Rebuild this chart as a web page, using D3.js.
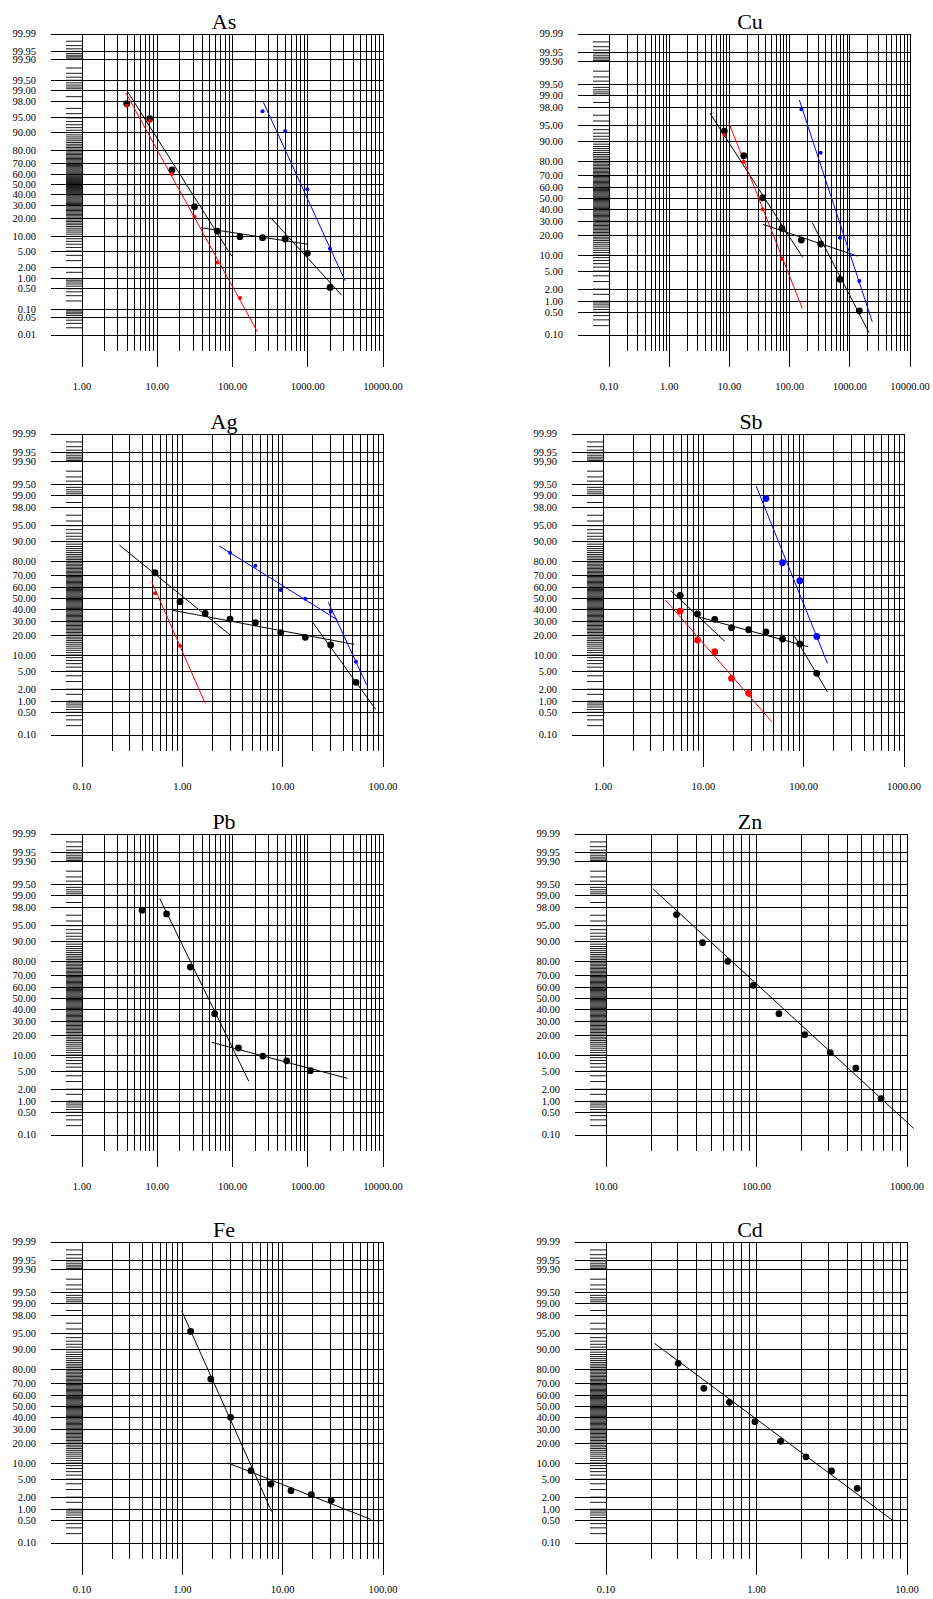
<!DOCTYPE html>
<html>
<head>
<meta charset="utf-8">
<script src="https://cdn.jsdelivr.net/npm/d3@7"></script>
<style>
  html, body { margin: 0; padding: 0; background: #fff; }
  svg { display: block; }
  text { font-family: "Liberation Serif", "Times New Roman", serif; fill: #000; }
</style>
</head>
<body>
<svg id="chart" width="933" height="1599"></svg>
<script>
// probability gridlines (cumulative %)
const probLabels = [99.99, 99.95, 99.9, 99.5, 99, 98, 95, 90, 80, 70, 60, 50, 40, 30, 20, 10, 5, 2, 1, 0.5, 0.1, 0.05, 0.01];

// ---- As ----
const asX = [3.93, 7.95, 15.7, 31.3, 62.8, 125.6, 251, 501, 986, 1976];
const asBlack = [97.7, 94.8, 64, 29.2, 12.5, 9.86, 9.45, 8.9, 4.46, 0.55];
const asRedX = [3.93, 7.95, 15.7, 31.3, 62.8, 125.6];
const asRed = [97.4, 94.2, 60.2, 21.3, 2.68, 0.25];
const asBlueX = [251, 501, 986, 1976];
const asBlue = [96.5, 90.7, 45.3, 5.6];
const asBlackFits = [[[4.05, 98.9], [97.5, 3.86]], [[38.1, 14.3], [1016, 6.97]], [[322, 20.6], [2826, 0.31]]];
const asRedFits = [[[3.84, 98.8], [214, 0.0138]]];
const asBlueFits = [[[257, 97.9], [3126, 0.87]]];

// ---- Cu ----
const cuX = [8.23, 17.3, 35.7, 74.8, 157, 328, 687, 1439];
const cuBlack = [93.6, 83.3, 50.6, 24.9, 17.3, 15.1, 3.36, 0.55];
const cuRedX = [8.23, 17.3, 35.7, 74.8];
const cuRed = [92.4, 79.7, 40.2, 8.5];
const cuBlueX = [157, 328, 687, 1439];
const cuBlue = [97.8, 84.9, 18.7, 3.08];
const cuBlackFits = [[[4.76, 97.3], [165, 9.1]], [[35.7, 27.9], [1334, 9.6]], [[238, 29.1], [2084, 0.119]]];
const cuRedFits = [[[9.73, 95.7], [162.6, 0.644]]];
const cuBlueFits = [[[145, 98.7], [2366, 0.26]]];

// ---- Ag ----
const agX = [0.534, 0.948, 1.69, 2.99, 5.34, 9.55, 16.8, 30.1, 53.8];
const agBlack = [71.9, 47.0, 36.8, 32.0, 29.1, 21.9, 18.9, 14.6, 2.88];
const agRedX = [0.534, 0.948];
const agRed = [54.6, 14.2];
const agBlueX = [2.99, 5.34, 9.55, 16.8, 30.1, 53.8];
const agBlue = [84.9, 77.0, 57.5, 49.7, 38.2, 7.6];
const agBlackFits = [[[0.2355, 88.6], [2.99, 20.4]], [[0.802, 39.4], [51.8, 14.9]], [[19.9, 29.4], [84.6, 0.6]]];
const agRedFits = [[[0.495, 64.7], [1.69, 0.88]]];
const agBlueFits = [[[2.34, 88.2], [35.3, 31.2]], [[28.5, 46.5], [68.8, 2.5]]];

// ---- Sb ----
const sbX = [5.88, 8.74, 13.0, 19.1, 28.3, 42.1, 61.5, 91.6, 135];
const sbBlack = [52.8, 36.2, 31.8, 25.4, 23.9, 22.5, 17.9, 15.1, 4.5];
const sbRedX = [5.88, 8.74, 13.0, 19.1, 28.3];
const sbRed = [38.7, 17.3, 11.4, 3.53, 1.59];
const sbBlueX = [42.1, 61.5, 91.6, 135];
const sbBlue = [98.8, 79.0, 65.5, 19.5];
const sbBlackFits = [[[4.74, 56.9], [16.5, 16.4]], [[9.3, 33.4], [111, 13.7]], [[80.5, 19.9], [172.6, 1.71]]];
const sbRedFits = [[[4.2, 48.5], [48.3, 0.26]]];
const sbBlueFits = [[[33.5, 99.46], [172.6, 7.1]]];

// ---- Pb ----
const pbX = [6.29, 13.3, 27.5, 58.0, 120, 253, 524, 1084];
const pbBlack = [97.7, 97.2, 76.1, 36.5, 13.1, 9.6, 7.9, 5.1];
const pbBlackFits = [[[10.8, 98.8], [164, 3.08]], [[52.9, 16.0], [3357, 3.53]]];

// ---- Zn ----
const znX = [29.4, 43.8, 64.4, 95.3, 141, 209, 309, 457, 673];
const znBlack = [97.1, 89.6, 79.9, 61.6, 36.5, 20.6, 10.96, 5.76, 1.16];
const znBlackFits = [[[20.6, 99.33], [1107, 0.164]]];

// ---- Fe ----
const feX = [1.21, 1.92, 3.03, 4.83, 7.65, 12.1, 19.3, 30.5];
const feBlack = [95.5, 73.2, 40.2, 7.3, 3.96, 2.83, 2.29, 1.68];
const feBlackFits = [[[0.986, 98.45], [7.78, 0.86]], [[2.83, 10.1], [75.4, 0.53]]];

// ---- Cd ----
const cdX = [0.302, 0.447, 0.661, 0.977, 1.445, 2.13, 3.15, 4.67];
const cdBlack = [83.5, 65.9, 53.7, 36.5, 21.5, 12.7, 7.2, 3.19];
const cdBlackFits = [[[0.21, 92.3], [7.96, 0.51]]];

// inverse normal CDF (Acklam)
function probit(p) {
  const a = [-3.969683028665376e+01, 2.209460984245205e+02, -2.759285104469687e+02, 1.383577518672690e+02, -3.066479806614716e+01, 2.506628277459239e+00];
  const b = [-5.447609879822406e+01, 1.615858368580409e+02, -1.556989798598866e+02, 6.680131188771972e+01, -1.328068155288572e+01];
  const c = [-7.784894002430293e-03, -3.223964580411365e-01, -2.400758277161838e+00, -2.549732539343734e+00, 4.374664141464968e+00, 2.938163982698783e+00];
  const d = [7.784695709041462e-03, 3.224671290700398e-01, 2.445134137142996e+00, 3.754408661907416e+00];
  const pl = 0.02425;
  let q, r;
  if (p < pl) {
    q = Math.sqrt(-2 * Math.log(p));
    return (((((c[0]*q+c[1])*q+c[2])*q+c[3])*q+c[4])*q+c[5]) / ((((d[0]*q+d[1])*q+d[2])*q+d[3])*q+1);
  }
  if (p > 1 - pl) {
    q = Math.sqrt(-2 * Math.log(1 - p));
    return -(((((c[0]*q+c[1])*q+c[2])*q+c[3])*q+c[4])*q+c[5]) / ((((d[0]*q+d[1])*q+d[2])*q+d[3])*q+1);
  }
  q = p - 0.5; r = q * q;
  return (((((a[0]*r+a[1])*r+a[2])*r+a[3])*r+a[4])*r+a[5])*q / (((((b[0]*r+b[1])*r+b[2])*r+b[3])*r+b[4])*r+1);
}

// fine tick ladder left of the axis
const ladder = [];
for (let i = 91; i <= 98; i++) ladder.push(99.9 + (i - 90) / 100);
for (let i = 1; i <= 8; i++) ladder.push(99 + i / 10);
ladder.push(98.5, 1.5);
for (let i = 1; i <= 97; i++) ladder.push(i);
for (let i = 2; i <= 9; i++) ladder.push(i / 10);
for (let i = 2; i <= 9; i++) ladder.push(i / 100);

const size = 301;
const zip = (xs, ps) => xs.map((x, i) => [x, ps[i]]);

const panels = [
  { title: 'As', xDomain: [1, 10000], pMin: 0.01, left: 82, top: 34, titleX: 224,
    series: [
      { pts: zip(asX, asBlack), fits: asBlackFits, color: '#000', r: 3.4 },
      { pts: zip(asRedX, asRed), fits: asRedFits, color: '#f00', r: 2 },
      { pts: zip(asBlueX, asBlue), fits: asBlueFits, color: '#00f', r: 2 }] },
  { title: 'Cu', xDomain: [0.1, 10000], pMin: 0.1, left: 609, top: 34, titleX: 750,
    series: [
      { pts: zip(cuX, cuBlack), fits: cuBlackFits, color: '#000', r: 3.4 },
      { pts: zip(cuRedX, cuRed), fits: cuRedFits, color: '#f00', r: 2 },
      { pts: zip(cuBlueX, cuBlue), fits: cuBlueFits, color: '#00f', r: 2 }] },
  { title: 'Ag', xDomain: [0.1, 100], pMin: 0.1, left: 82, top: 434, titleX: 224,
    series: [
      { pts: zip(agX, agBlack), fits: agBlackFits, color: '#000', r: 3.4 },
      { pts: zip(agRedX, agRed), fits: agRedFits, color: '#f00', r: 2 },
      { pts: zip(agBlueX, agBlue), fits: agBlueFits, color: '#00f', r: 2 }] },
  { title: 'Sb', xDomain: [1, 1000], pMin: 0.1, left: 603, top: 434, titleX: 751,
    series: [
      { pts: zip(sbX, sbBlack), fits: sbBlackFits, color: '#000', r: 3.4 },
      { pts: zip(sbRedX, sbRed), fits: sbRedFits, color: '#f00', r: 3.4 },
      { pts: zip(sbBlueX, sbBlue), fits: sbBlueFits, color: '#00f', r: 3.4 }] },
  { title: 'Pb', xDomain: [1, 10000], pMin: 0.1, left: 82, top: 834, titleX: 224,
    series: [{ pts: zip(pbX, pbBlack), fits: pbBlackFits, color: '#000', r: 3.4 }] },
  { title: 'Zn', xDomain: [10, 1000], pMin: 0.1, left: 606, top: 834, titleX: 750,
    series: [{ pts: zip(znX, znBlack), fits: znBlackFits, color: '#000', r: 3.4 }] },
  { title: 'Fe', xDomain: [0.1, 100], pMin: 0.1, left: 82, top: 1242, titleX: 224,
    series: [{ pts: zip(feX, feBlack), fits: feBlackFits, color: '#000', r: 3.4 }] },
  { title: 'Cd', xDomain: [0.1, 10], pMin: 0.1, left: 606, top: 1242, titleX: 750,
    series: [{ pts: zip(cdX, cdBlack), fits: cdBlackFits, color: '#000', r: 3.4 }] }
];

const svg = d3.select('#chart');
svg.append('rect').attr('width', 933).attr('height', 1599).attr('fill', '#fff');

panels.forEach(pn => {
  const g = svg.append('g');
  const x = d3.scaleLog().domain(pn.xDomain).range([pn.left, pn.left + size]);
  const z = d3.scaleLinear().domain([probit(pn.pMin / 100), probit(0.9999)]).range([pn.top + size, pn.top]);
  const y = p => z(probit(p / 100));
  const bottom = pn.top + size;

  // title
  g.append('text')
    .attr('x', pn.titleX).attr('y', pn.top - 5)
    .attr('text-anchor', 'middle')
    .style('font-size', '22px')
    .text(pn.title);

  const grid = g.append('g').attr('stroke', '#000').attr('stroke-width', 1).attr('shape-rendering', 'crispEdges');

  // vertical log lines
  const d0 = Math.round(Math.log10(pn.xDomain[0]));
  const d1 = Math.round(Math.log10(pn.xDomain[1]));
  const vlines = [];
  for (let d = d0; d < d1; d++) {
    for (let k = 1; k <= 9; k++) vlines.push({ v: k * Math.pow(10, d), major: k === 1 });
  }
  vlines.push({ v: Math.pow(10, d1), major: true });
  grid.selectAll('.vl').data(vlines).enter().append('line')
    .attr('x1', d => x(d.v)).attr('x2', d => x(d.v))
    .attr('y1', pn.top)
    .attr('y2', d => d.major ? bottom + 32 : bottom + 16);

  // horizontal probability lines
  const labs = probLabels.filter(p => p >= pn.pMin);
  grid.selectAll('.hl').data(labs).enter().append('line')
    .attr('x1', pn.left - 31).attr('x2', pn.left + size)
    .attr('y1', d => y(d)).attr('y2', d => y(d));

  // tick ladder (anti-aliased, goes grey where dense)
  g.append('g').attr('stroke', '#000').attr('stroke-width', 0.9)
    .selectAll('line').data(ladder.filter(p => p > pn.pMin)).enter().append('line')
    .attr('x1', pn.left - 16).attr('x2', pn.left)
    .attr('y1', d => y(d)).attr('y2', d => y(d));

  // y labels
  g.selectAll('.yl').data(labs).enter().append('text')
    .attr('x', pn.left - 46).attr('y', d => y(d))
    .attr('dy', '0.33em')
    .attr('text-anchor', 'end')
    .style('font-size', '10.5px')
    .text(d => d3.format('.2f')(d));

  // x labels at decades
  const decades = d3.range(d0, d1 + 1).map(d => Math.pow(10, d));
  g.selectAll('.xl').data(decades).enter().append('text')
    .attr('x', d => x(d)).attr('y', Math.min(pn.top + 356, 1593))
    .attr('text-anchor', 'middle')
    .style('font-size', '10.5px')
    .text(d => d3.format('.2f')(d));

  // fitted segments, then points
  pn.series.forEach(s => {
    g.selectAll(null).data(s.fits).enter().append('line')
      .attr('x1', d => x(d[0][0])).attr('y1', d => y(d[0][1]))
      .attr('x2', d => x(d[1][0])).attr('y2', d => y(d[1][1]))
      .attr('stroke', s.color).attr('stroke-width', 1);
  });
  pn.series.forEach(s => {
    g.selectAll(null).data(s.pts).enter().append('circle')
      .attr('cx', d => x(d[0])).attr('cy', d => y(d[1]))
      .attr('r', s.r)
      .attr('fill', s.color);
  });
});
</script>
</body>
</html>
